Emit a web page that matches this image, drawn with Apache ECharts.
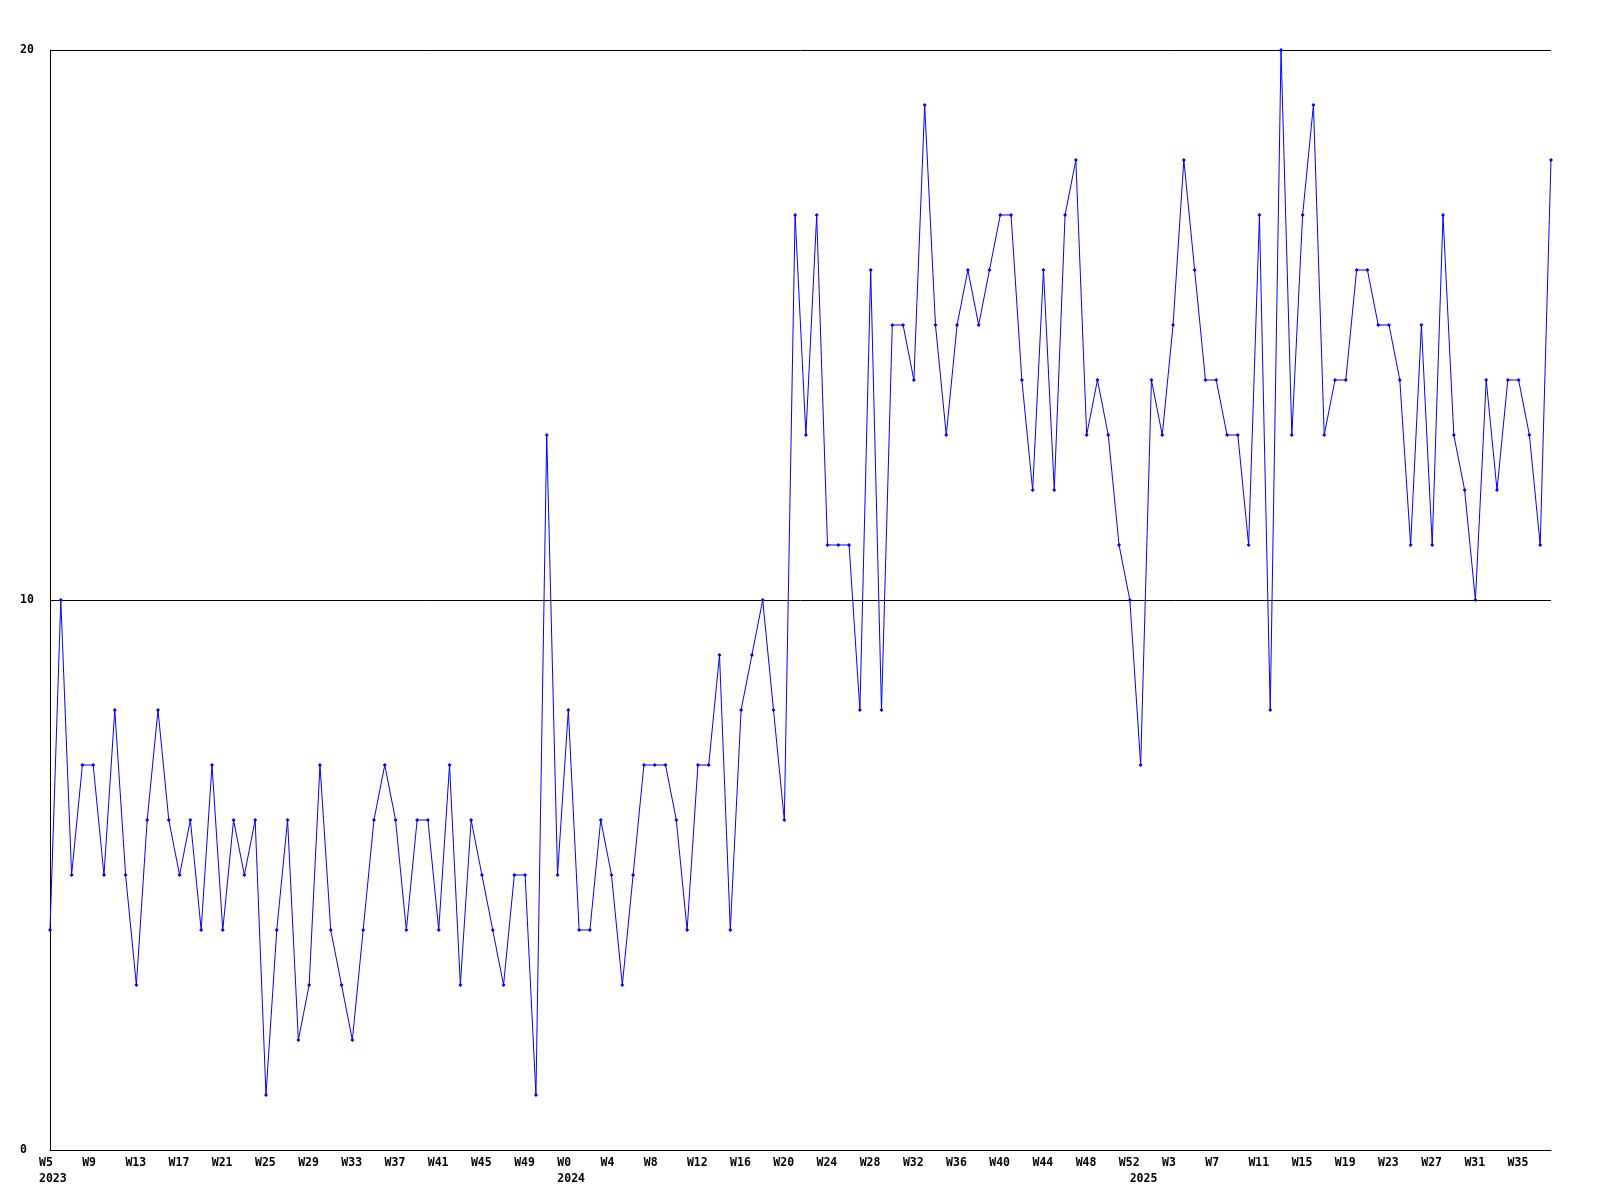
<!DOCTYPE html>
<html>
<head>
<meta charset="utf-8">
<script src="https://cdn.jsdelivr.net/npm/echarts@6/dist/echarts.min.js"></script>
<style>
html,body{margin:0;padding:0;background:#fff;}
#chart{width:1600px;height:1200px;}
</style>
</head>
<body>
<div id="chart"></div>
<script>
// Week labels per year
var weeks2023 = ['W5','W6','W7','W8','W9','W10','W11','W12','W13','W14','W15','W16','W17','W18','W19','W20','W21','W22','W23','W24','W25','W26','W27','W28','W29','W30','W31','W32','W33','W34','W35','W36','W37','W38','W39','W40','W41','W42','W43','W44','W45','W46','W47','W48','W49','W50','W51','W52'];
var weeks2024 = ['W0','W1','W2','W3','W4','W5','W6','W7','W8','W9','W10','W11','W12','W13','W14','W15','W16','W17','W18','W19','W20','W21','W22','W23','W24','W25','W26','W27','W28','W29','W30','W31','W32','W33','W34','W35','W36','W37','W38','W39','W40','W41','W42','W43','W44','W45','W46','W47','W48','W49','W50','W51','W52'];
var weeks2025 = ['W0','W1','W2','W3','W4','W5','W6','W7','W8','W9','W10','W11','W12','W13','W14','W15','W16','W17','W18','W19','W20','W21','W22','W23','W24','W25','W26','W27','W28','W29','W30','W31','W32','W33','W34','W35','W36','W37','W38'];
var years = ['2023','2024','2025'];

// Values per year
var values2023 = [4,10,5,7,7,5,8,5,3,6,8,6,5,6,4,7,4,6,5,6,1,4,6,2,3,7,4,3,2,4,6,7,6,4,6,6,4,7,3,6,5,4,3,5,5,1,13,5];
var values2024 = [8,4,4,6,5,3,5,7,7,7,6,4,7,7,9,4,8,9,10,8,6,17,13,17,11,11,11,8,16,8,15,15,14,19,15,13,15,16,15,16,17,17,14,12,16,12,17,18,13,14,13,11,10];
var values2025 = [7,14,13,15,18,16,14,14,13,13,11,17,8,20,13,17,19,13,14,14,16,16,15,15,14,11,15,11,17,13,12,10,14,12,14,14,13,11,18];

var yTicks = [0, 10, 20];

var categories = weeks2023.concat(weeks2024, weeks2025);
var values = values2023.concat(values2024, values2025);
var yearStart = {};
yearStart[0] = years[0];
yearStart[weeks2023.length] = years[1];
yearStart[weeks2023.length + weeks2024.length] = years[2];

var chart = echarts.init(document.getElementById('chart'), null, {renderer: 'canvas'});
var font = 'DejaVu Sans Mono';
chart.setOption({
  animation: false,
  backgroundColor: '#ffffff',
  grid: {left: 50, right: 49, top: 50, bottom: 50, containLabel: false},
  xAxis: {
    type: 'category',
    data: categories,
    boundaryGap: false,
    axisLine: {show: true, lineStyle: {color: '#000', width: 1}},
    axisTick: {show: false},
    splitLine: {show: false},
    axisLabel: {
      interval: 0,
      margin: 5,
      align: 'left',
      padding: [0, 0, 0, -11],
      color: '#000',
      fontFamily: font,
      fontWeight: 'bold',
      fontSize: 11.5,
      lineHeight: 16,
      formatter: function (val, idx) {
        var wk = (idx % 4 === 0) ? val : '';
        var yr = yearStart[idx];
        if (yr) return (wk || ' ') + '\n' + yr;
        return wk;
      }
    }
  },
  yAxis: {
    type: 'value',
    min: yTicks[0],
    max: yTicks[yTicks.length - 1],
    interval: 10,
    axisLine: {show: true, lineStyle: {color: '#000', width: 1}},
    axisTick: {show: false},
    splitLine: {show: true, lineStyle: {color: '#000', width: 1}},
    axisLabel: {
      margin: 30,
      align: 'left',
      color: '#000',
      fontFamily: font,
      fontWeight: 'bold',
      fontSize: 11.5
    }
  },
  series: [{
    type: 'line',
    data: values,
    symbol: 'diamond',
    symbolSize: 4,
    showAllSymbol: true,
    lineStyle: {color: '#0000ff', width: 1},
    itemStyle: {color: '#0000ff'},
    emphasis: {disabled: true}
  }]
});
</script>
</body>
</html>
